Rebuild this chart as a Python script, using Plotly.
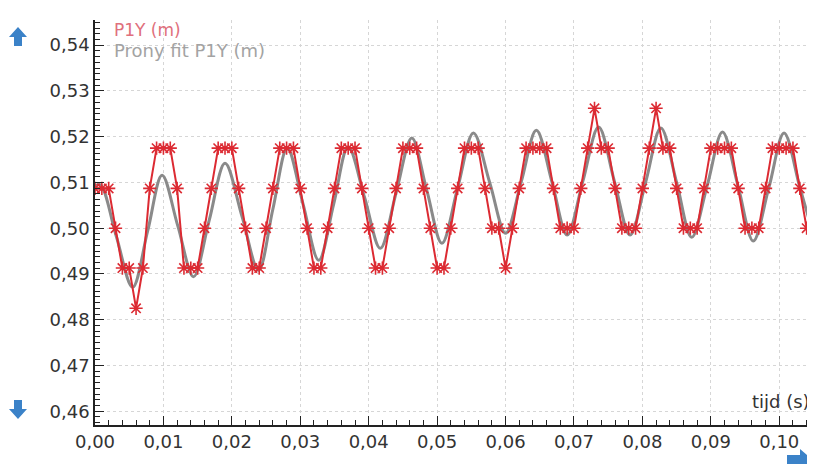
import plotly.graph_objects as go

# ---- data ----
dt = 0.001  # sampling interval of the measurement (s)
p1y = [
    0.5087, 0.5087, 0.5087, 0.5000, 0.4913, 0.4913, 0.4825, 0.4913, 0.5087, 0.5175,
    0.5175, 0.5175, 0.5087, 0.4913, 0.4913, 0.4913, 0.5000, 0.5087, 0.5175, 0.5175,
    0.5175, 0.5087, 0.5000, 0.4913, 0.4913, 0.5000, 0.5087, 0.5175, 0.5175, 0.5175,
    0.5087, 0.5000, 0.4913, 0.4913, 0.5000, 0.5087, 0.5175, 0.5175, 0.5175, 0.5087,
    0.5000, 0.4913, 0.4913, 0.5000, 0.5087, 0.5175, 0.5175, 0.5175, 0.5087, 0.5000,
    0.4913, 0.4913, 0.5000, 0.5087, 0.5175, 0.5175, 0.5175, 0.5087, 0.5000, 0.5000,
    0.4913, 0.5000, 0.5087, 0.5175, 0.5175, 0.5175, 0.5175, 0.5087, 0.5000, 0.5000,
    0.5000, 0.5087, 0.5175, 0.5262, 0.5175, 0.5175, 0.5087, 0.5000, 0.5000, 0.5000,
    0.5087, 0.5175, 0.5262, 0.5175, 0.5175, 0.5087, 0.5000, 0.5000, 0.5000, 0.5087,
    0.5175, 0.5175, 0.5175, 0.5175, 0.5087, 0.5000, 0.5000, 0.5000, 0.5087, 0.5175,
    0.5175, 0.5175, 0.5175, 0.5087, 0.5000,
]
t_p1y = [round(i * dt, 4) for i in range(len(p1y))]

t_fit = [
    0.0000, 0.0008, 0.0031, 0.0055, 0.0077, 0.0098, 0.0121, 0.0144, 0.0167, 0.0190,
    0.0215, 0.0239, 0.0260, 0.0281, 0.0304, 0.0327, 0.0349, 0.0370, 0.0394, 0.0417,
    0.0440, 0.0463, 0.0485, 0.0507, 0.0530, 0.0553, 0.0577, 0.0600, 0.0623, 0.0645,
    0.0668, 0.0690, 0.0713, 0.0736, 0.0759, 0.0782, 0.0805, 0.0827, 0.0850, 0.0872,
    0.0895, 0.0917, 0.0940, 0.0962, 0.0985, 0.1007, 0.1030, 0.1050,
]
fit = [
    0.5092, 0.5095, 0.4983, 0.4871, 0.4994, 0.5116, 0.5005, 0.4894, 0.5018, 0.5142,
    0.5025, 0.4908, 0.5042, 0.5175, 0.5053, 0.4930, 0.5054, 0.5178, 0.5067, 0.4956,
    0.5077, 0.5197, 0.5082, 0.4967, 0.5088, 0.5208, 0.5099, 0.4989, 0.5102, 0.5214,
    0.5100, 0.4985, 0.5103, 0.5221, 0.5103, 0.4985, 0.5102, 0.5219, 0.5100, 0.4980,
    0.5095, 0.5210, 0.5091, 0.4972, 0.5090, 0.5208, 0.5090, 0.4985,
]

y_ticks = [0.46, 0.47, 0.48, 0.49, 0.50, 0.51, 0.52, 0.53, 0.54]
x_ticks = [0.00, 0.01, 0.02, 0.03, 0.04, 0.05, 0.06, 0.07, 0.08, 0.09, 0.10]

RED = "#dc2a32"
GRAY = "#8a8a8a"
FONT = "DejaVu Sans, Verdana, sans-serif"

# The page body has an 8 px default margin, so the figure is drawn from (8, 8)
# of the window. Plot-area geometry in window pixels (decorations only):
OFF = 8
WIN_W, WIN_H = 815, 464
L, R, T, B = 95, 808, 20, 425
W, H = WIN_W - OFF, WIN_H - OFF


def px(x, y):
    return (x - L) / (R - L), (B - y) / (B - T)


def path(points):
    s = ""
    for i, (x, y) in enumerate(points):
        a, b = px(x, y)
        s += ("M" if i == 0 else "L") + f"{a:.5f},{b:.5f} "
    return s + "Z"


fig = go.Figure()
fig.add_trace(go.Scatter(
    x=t_fit, y=fit, mode="lines", name="Prony fit P1Y (m)",
    line=dict(color=GRAY, width=3, shape="spline", smoothing=1.0),
))
fig.add_trace(go.Scatter(
    x=t_p1y, y=p1y, mode="lines+markers", name="P1Y (m)",
    line=dict(color=RED, width=2),
    marker=dict(symbol="asterisk-open", size=11, color=RED,
                line=dict(color=RED, width=1.6)),
))

arrow_blue = "#3b82c8"
shapes = [
    dict(type="path", xref="paper", yref="paper", fillcolor=arrow_blue,
         line=dict(width=0),
         path=path([(18, 27), (27, 37), (22, 37), (22, 46), (14, 46), (14, 37), (9, 37)])),
    dict(type="path", xref="paper", yref="paper", fillcolor=arrow_blue,
         line=dict(width=0),
         path=path([(18, 419), (27, 409), (22, 409), (22, 400), (14, 400), (14, 409), (9, 409)])),
    dict(type="path", xref="paper", yref="paper", fillcolor=arrow_blue,
         line=dict(width=0),
         path=path([(787, 455), (800, 455), (800, 449), (813, 460), (800, 471), (800, 465), (787, 465)])),
]

annotations = [
    dict(text="P1Y (m)", x=px(112, 30)[0], y=px(112, 30)[1], xref="paper", yref="paper",
         xanchor="left", yanchor="middle", showarrow=False,
         font=dict(family=FONT, size=17, color="#e0707c")),
    dict(text="Prony fit P1Y (m)", x=px(112, 51)[0], y=px(112, 51)[1], xref="paper", yref="paper",
         xanchor="left", yanchor="middle", showarrow=False,
         font=dict(family=FONT, size=18, color="#a3a3a3")),
    dict(text="tijd (s)", x=px(812, 401)[0], y=px(812, 401)[1], xref="paper", yref="paper",
         xanchor="right", yanchor="middle", showarrow=False,
         font=dict(family=FONT, size=18, color="#333333")),
]

fig.update_layout(
    width=W, height=H,
    margin=dict(l=L - OFF, r=WIN_W - R, t=T - OFF, b=WIN_H - B, pad=0),
    paper_bgcolor="white", plot_bgcolor="white",
    separators=",.",
    showlegend=False,
    font=dict(family=FONT, size=18, color="#333333"),
    shapes=shapes, annotations=annotations,
)
fig.update_xaxes(
    range=[0, 0.1042], tickvals=x_ticks, tickformat=".2f", automargin=False,
    showline=True, linecolor="#222222", linewidth=1.5,
    ticks="inside", ticklen=9, tickcolor="#222222", tickwidth=1.2,
    showgrid=True, gridcolor="#d6d6d6", griddash="dot", gridwidth=1,
    zeroline=False,
    minor=dict(dtick=0.002, ticks="inside", ticklen=5, tickcolor="#222222", showgrid=False),
    tickfont=dict(family=FONT, size=18, color="#333333"),
)
fig.update_yaxes(
    range=[0.457, 0.5455], tickvals=y_ticks, tickformat=".2f", automargin=False,
    showline=True, linecolor="#222222", linewidth=1.5,
    ticks="inside", ticklen=9, tickcolor="#222222", tickwidth=1.2,
    showgrid=True, gridcolor="#d6d6d6", griddash="dot", gridwidth=1,
    zeroline=False,
    minor=dict(dtick=0.00125, ticks="inside", ticklen=5, tickcolor="#222222", showgrid=False),
    tickfont=dict(family=FONT, size=18, color="#333333"),
)

fig.write_html("out.html")
